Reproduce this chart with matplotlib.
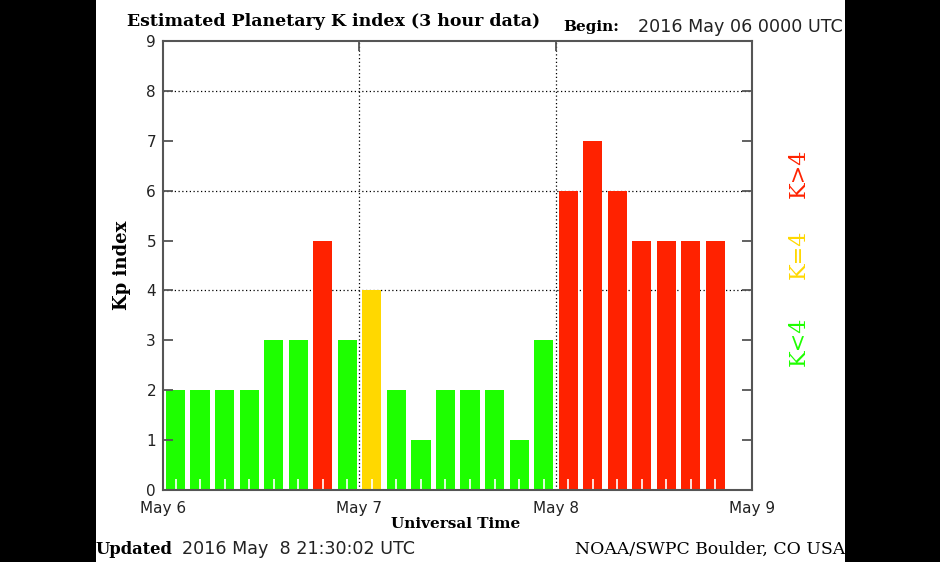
import matplotlib
matplotlib.use("Agg")
import matplotlib.pyplot as plt
from matplotlib.patches import Rectangle
import numpy as np

# ---- data ----
kp_values = [2, 2, 2, 2, 3, 3, 5, 3,
             4, 2, 1, 2, 2, 2, 1, 3,
             6, 7, 6, 5, 5, 5, 5]
day_labels = ["May 6", "May 7", "May 8", "May 9"]
slots_per_day = 8
y_ticks = list(range(0, 10))
grid_levels = [4, 6, 8]

GREEN = "#1eff00"
YELLOW = "#ffd800"
RED = "#ff2200"

def kp_color(v):
    if v < 4:
        return GREEN
    if v == 4:
        return YELLOW
    return RED

W, H = 940, 562
fig = plt.figure(figsize=(W / 100, H / 100), dpi=100)
fig.patch.set_facecolor("white")

def fx(px):
    return px / W

def fy(py):
    return 1 - py / H

ax = fig.add_axes([fx(163), fy(490), fx(752) - fx(163), fy(41) - fy(490)])

x = np.arange(len(kp_values))
ax.bar(x + 0.12, kp_values, width=0.78, align="edge",
       color=[kp_color(v) for v in kp_values], edgecolor="none", zorder=2)

n_days = len(day_labels) - 1
ax.set_xlim(0, n_days * slots_per_day)
ax.set_ylim(0, 9)

ax.set_xticks([i * slots_per_day for i in range(len(day_labels))])
ax.set_xticklabels(day_labels)
ax.set_xticks(x + 0.51, minor=True)
ax.set_yticks(y_ticks)

spine_col = "#555555"
for s in ax.spines.values():
    s.set_color(spine_col)
    s.set_linewidth(1.5)
    s.set_zorder(3)

ax.tick_params(axis="both", which="major", direction="in", length=7,
               width=1.3, color=spine_col, labelsize=11, labelcolor="#222222")
ax.tick_params(axis="y", which="major", left=True, right=True, labelleft=True, pad=5)
ax.tick_params(axis="x", which="major", top=True, bottom=False, pad=8)
ax.tick_params(axis="x", which="minor", direction="in", length=8, width=1.2,
               color="white", bottom=True, top=False)
ax.set_axisbelow(False)

for lvl in grid_levels:
    ax.axhline(lvl, color="black", linestyle=(0, (1, 2)), linewidth=0.9, zorder=1)
for d in range(1, n_days):
    ax.axvline(d * slots_per_day, color="black", linestyle=(0, (1, 2)),
               linewidth=0.9, zorder=1)

serif = "DejaVu Serif"
sans = "DejaVu Sans"

fig.text(fx(127), fy(21), "Estimated Planetary K index (3 hour data)",
         fontsize=12.5, fontweight="bold", family=serif, ha="left", va="center")
fig.text(fx(563), fy(27), "Begin:", fontsize=11, fontweight="bold",
         family=serif, ha="left", va="center")
fig.text(fx(638), fy(27), "2016 May 06 0000 UTC", fontsize=12.6,
         family=sans, ha="left", va="center", color="#222222")

fig.text(fx(122), fy(265), "Kp index", fontsize=13, fontweight="bold",
         family=serif, rotation=90, ha="center", va="center")
fig.text(fx(456), fy(524), "Universal Time", fontsize=11, fontweight="bold",
         family=serif, ha="center", va="center")

fig.text(fx(96), fy(549), "Updated", fontsize=11.8, fontweight="bold",
         family=serif, ha="left", va="center")
fig.text(fx(182), fy(549), "2016 May  8 21:30:02 UTC", fontsize=12.6,
         family=sans, ha="left", va="center", color="#222222")
fig.text(fx(845), fy(549), "NOAA/SWPC Boulder, CO USA", fontsize=12.4,
         family=serif, ha="right", va="center")

lab_font = "DejaVu Serif"
fig.text(fx(799), fy(173), "K>4", color=RED, fontsize=16, family=lab_font,
         rotation=90, ha="center", va="center")
fig.text(fx(799), fy(254), "K=4", color=YELLOW, fontsize=16, family=lab_font,
         rotation=90, ha="center", va="center")
fig.text(fx(799), fy(341), "K<4", color=GREEN, fontsize=16, family=lab_font,
         rotation=90, ha="center", va="center")

fig.add_artist(Rectangle((0, 0), fx(96), 1, transform=fig.transFigure,
                         facecolor="black", edgecolor="none", zorder=10))
fig.add_artist(Rectangle((fx(845), 0), 1 - fx(845), 1, transform=fig.transFigure,
                         facecolor="black", edgecolor="none", zorder=10))

fig.savefig("out.png", dpi=100, facecolor=fig.get_facecolor())
